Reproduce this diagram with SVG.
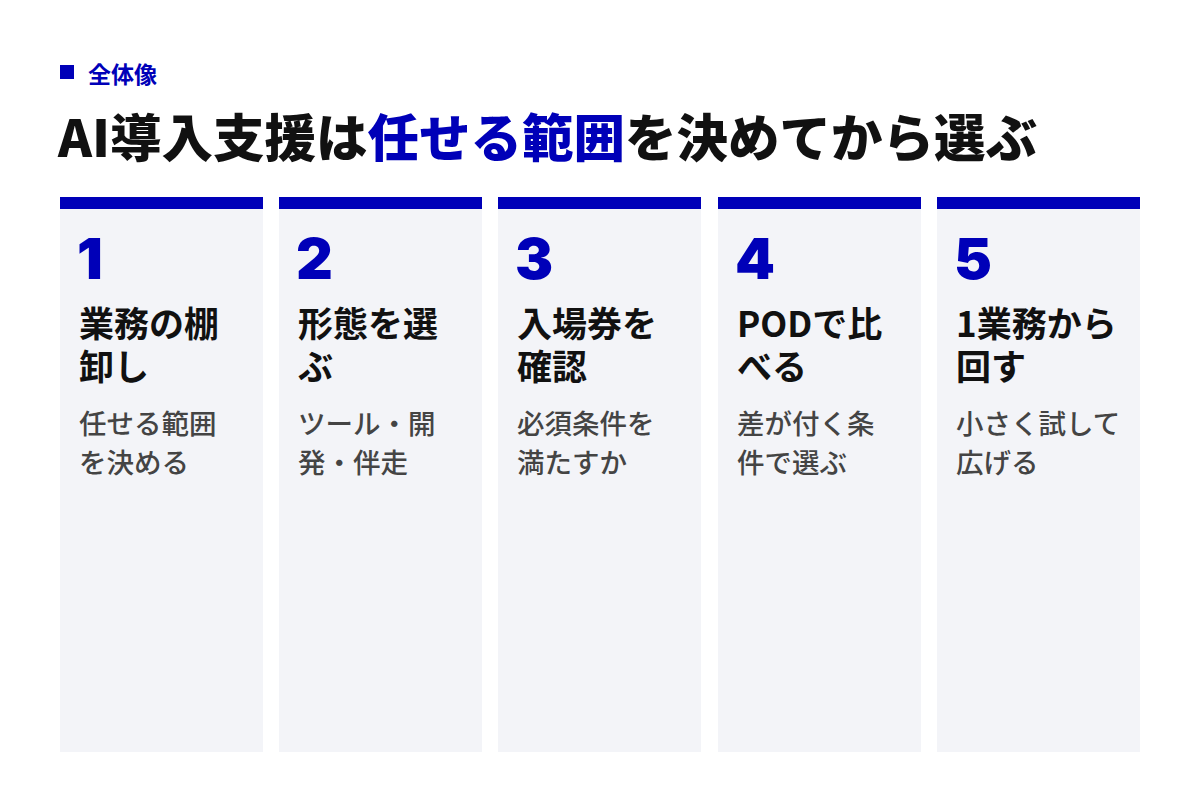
<svg xmlns="http://www.w3.org/2000/svg" width="1200" height="800" viewBox="0 0 1200 800">
<style>
text{font-family:"Noto Sans CJK JP","Noto Sans",sans-serif}
.card{fill:#f3f4f8}
.bar{fill:#0000b8}
.num{fill:#0000b8;font-family:Inter,"Liberation Sans",sans-serif;font-size:57px;font-weight:900}
.head{fill:#111;font-size:35px;font-weight:700}
.sub{fill:#444;font-size:27.5px;font-weight:500}
</style>
<rect width="1200" height="800" fill="#fff"/>
<rect x="60" y="65" width="14" height="14" fill="#0000b8"/>
<text x="88" y="83" fill="#0000b8" font-size="23" font-weight="700">全体像</text>
<text x="58" y="157" fill="#111" font-size="51.5" font-weight="900">AI導入支援は<tspan fill="#0000b8">任せる範囲</tspan>を決めてから選ぶ</text>
<g id="card1">
<rect class="card" x="60" y="197" width="203" height="555"/><rect class="bar" x="60" y="197" width="203" height="12"/>
<text class="num" x="77" y="279">1</text>
<text class="head" x="79" y="337">業務の棚</text><text class="head" x="79" y="380">卸し</text>
<text class="sub" x="79" y="434">任せる範囲</text><text class="sub" x="79" y="473">を決める</text>
</g>
<g id="card2">
<rect class="card" x="279" y="197" width="203" height="555"/><rect class="bar" x="279" y="197" width="203" height="12"/>
<text class="num" x="296" y="279">2</text>
<text class="head" x="298" y="337">形態を選</text><text class="head" x="298" y="380">ぶ</text>
<text class="sub" x="298" y="434">ツール・開</text><text class="sub" x="298" y="473">発・伴走</text>
</g>
<g id="card3">
<rect class="card" x="498" y="197" width="203" height="555"/><rect class="bar" x="498" y="197" width="203" height="12"/>
<text class="num" x="515" y="279">3</text>
<text class="head" x="517" y="337">入場券を</text><text class="head" x="517" y="380">確認</text>
<text class="sub" x="517" y="434">必須条件を</text><text class="sub" x="517" y="473">満たすか</text>
</g>
<g id="card4">
<rect class="card" x="718" y="197" width="203" height="555"/><rect class="bar" x="718" y="197" width="203" height="12"/>
<text class="num" x="735" y="279">4</text>
<text class="head" x="737" y="337">PODで比</text><text class="head" x="737" y="380">べる</text>
<text class="sub" x="737" y="434">差が付く条</text><text class="sub" x="737" y="473">件で選ぶ</text>
</g>
<g id="card5">
<rect class="card" x="937" y="197" width="203" height="555"/><rect class="bar" x="937" y="197" width="203" height="12"/>
<text class="num" x="954" y="279">5</text>
<text class="head" x="956" y="337">1業務から</text><text class="head" x="956" y="380">回す</text>
<text class="sub" x="956" y="434">小さく試して</text><text class="sub" x="956" y="473">広げる</text>
</g>
<g id="connectors"/>
</svg>
